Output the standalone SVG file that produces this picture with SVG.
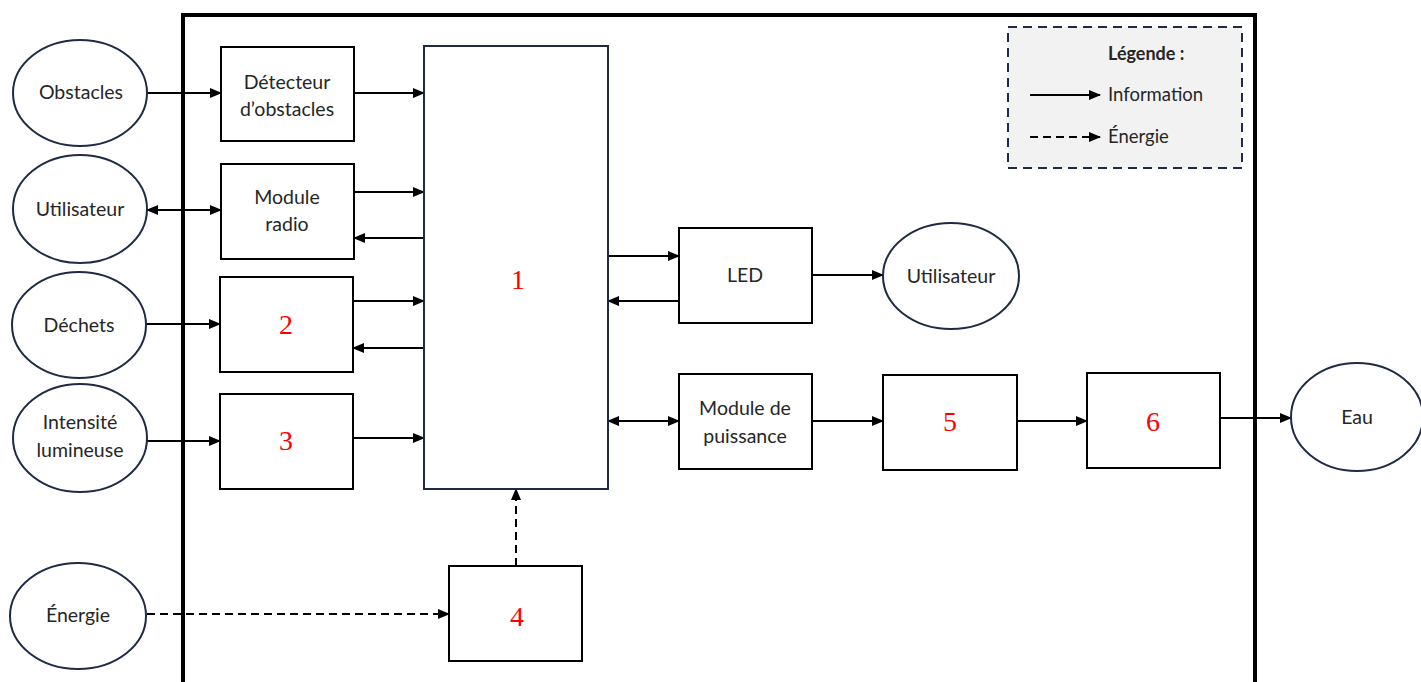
<svg xmlns="http://www.w3.org/2000/svg" width="1421" height="682" viewBox="0 0 1421 682">
<style>
.ell{fill:#fff;stroke:#1f2b45;stroke-width:2}
.box{fill:#fff;stroke:#000;stroke-width:2}
.t{font-family:Lato,"Liberation Sans",sans-serif;font-size:19.5px;fill:#262626;text-anchor:middle}
.n{font-family:"Liberation Serif",serif;font-size:28px;fill:#ff0000;text-anchor:middle}
.c{stroke:#000;stroke-width:2;fill:none}
.d{stroke:#000;stroke-width:2;fill:none;stroke-dasharray:8 5}
</style>
<defs>
<marker id="ah" markerUnits="userSpaceOnUse" markerWidth="12" markerHeight="10" refX="11" refY="5" orient="auto-start-reverse">
<path d="M0,0 L12,5 L0,10 Z" fill="#000"/>
</marker>
</defs>
<rect x="0" y="0" width="1421" height="682" fill="#fff"/>
<rect id="system" x="183" y="15" width="1072" height="720" fill="none" stroke="#000" stroke-width="4"/>

<g id="legend">
<rect x="1008" y="27" width="234" height="141" fill="#f2f2f2" stroke="#1f2b45" stroke-width="2" stroke-dasharray="9 6"/>
<text x="1108" y="60" class="t" style="text-anchor:start;font-weight:bold;font-size:18px">Légende :</text>
<line x1="1030" y1="95" x2="1100" y2="95" class="c" marker-end="url(#ah)"/>
<text x="1108" y="101" class="t" style="text-anchor:start;font-size:18.5px">Information</text>
<line x1="1030" y1="137" x2="1100" y2="137" class="d" stroke-dasharray="6 4" marker-end="url(#ah)"/>
<text x="1108" y="143" class="t" style="text-anchor:start;font-size:18.5px">Énergie</text>
</g>

<g id="connectors">
<line x1="147" y1="93" x2="221" y2="93" class="c" marker-end="url(#ah)"/>
<line x1="354" y1="93" x2="424" y2="93" class="c" marker-end="url(#ah)"/>
<line x1="147" y1="210" x2="221" y2="210" class="c" marker-start="url(#ah)" marker-end="url(#ah)"/>
<line x1="354" y1="192" x2="424" y2="192" class="c" marker-end="url(#ah)"/>
<line x1="424" y1="238" x2="354" y2="238" class="c" marker-end="url(#ah)"/>
<line x1="147" y1="324" x2="220" y2="324" class="c" marker-end="url(#ah)"/>
<line x1="353" y1="301" x2="424" y2="301" class="c" marker-end="url(#ah)"/>
<line x1="424" y1="348" x2="353" y2="348" class="c" marker-end="url(#ah)"/>
<line x1="147" y1="441" x2="220" y2="441" class="c" marker-end="url(#ah)"/>
<line x1="353" y1="438" x2="424" y2="438" class="c" marker-end="url(#ah)"/>
<line x1="147" y1="614" x2="449" y2="614" class="d" marker-end="url(#ah)"/>
<line x1="516" y1="566" x2="516" y2="489" class="d" marker-end="url(#ah)"/>
<line x1="608" y1="256" x2="679" y2="256" class="c" marker-end="url(#ah)"/>
<line x1="679" y1="301" x2="608" y2="301" class="c" marker-end="url(#ah)"/>
<line x1="812" y1="275" x2="883" y2="275" class="c" marker-end="url(#ah)"/>
<line x1="608" y1="421" x2="679" y2="421" class="c" marker-start="url(#ah)" marker-end="url(#ah)"/>
<line x1="812" y1="421" x2="883" y2="421" class="c" marker-end="url(#ah)"/>
<line x1="1017" y1="421" x2="1087" y2="421" class="c" marker-end="url(#ah)"/>
<line x1="1220" y1="418" x2="1291" y2="418" class="c" marker-end="url(#ah)"/>
</g>

<g id="obstacles"><ellipse cx="80" cy="93" rx="67" ry="53" class="ell"/><text x="81" y="99" class="t">Obstacles</text></g>
<g id="utilisateur1"><ellipse cx="80" cy="209" rx="67" ry="54" class="ell"/><text x="80" y="216" class="t">Utilisateur</text></g>
<g id="dechets"><ellipse cx="79" cy="325" rx="67" ry="53" class="ell"/><text x="79" y="332" class="t">Déchets</text></g>
<g id="intensite"><ellipse cx="80" cy="438" rx="67" ry="54" class="ell"/><text x="80" y="429" class="t">Intensité</text><text x="80" y="457" class="t">lumineuse</text></g>
<g id="energie"><ellipse cx="78" cy="616" rx="68" ry="53" class="ell"/><text x="78" y="622" class="t">Énergie</text></g>

<g id="detecteur"><rect x="221" y="47" width="133" height="94" class="box"/><text x="287" y="89" class="t">Détecteur</text><text x="287" y="116" class="t">d’obstacles</text></g>
<g id="radio"><rect x="221" y="164" width="133" height="95" class="box"/><text x="287" y="204" class="t">Module</text><text x="287" y="231" class="t">radio</text></g>
<g id="b2"><rect x="220" y="277" width="133" height="95" class="box"/><text x="286" y="334" class="n">2</text></g>
<g id="b3"><rect x="220" y="394" width="133" height="95" class="box"/><text x="286" y="450" class="n">3</text></g>
<g id="b4"><rect x="449" y="566" width="133" height="95" class="box"/><text x="517" y="626" class="n">4</text></g>
<g id="b1"><rect x="424" y="46" width="184" height="443" fill="#fff" stroke="#1f2b45" stroke-width="2"/><text x="518" y="289" class="n">1</text></g>
<g id="led"><rect x="679" y="228" width="133" height="95" class="box"/><text x="745" y="282" class="t">LED</text></g>
<g id="utilisateur2"><ellipse cx="951" cy="276" rx="68" ry="53" class="ell"/><text x="951" y="283" class="t">Utilisateur</text></g>
<g id="puissance"><rect x="679" y="374" width="133" height="95" class="box"/><text x="745" y="415" class="t">Module de</text><text x="745" y="443" class="t">puissance</text></g>
<g id="b5"><rect x="883" y="375" width="134" height="95" class="box"/><text x="950" y="431" class="n">5</text></g>
<g id="b6"><rect x="1087" y="373" width="133" height="95" class="box"/><text x="1153" y="431" class="n">6</text></g>
<g id="eau"><ellipse cx="1357" cy="417" rx="66" ry="54" class="ell"/><text x="1357" y="424" class="t">Eau</text></g>
</svg>
